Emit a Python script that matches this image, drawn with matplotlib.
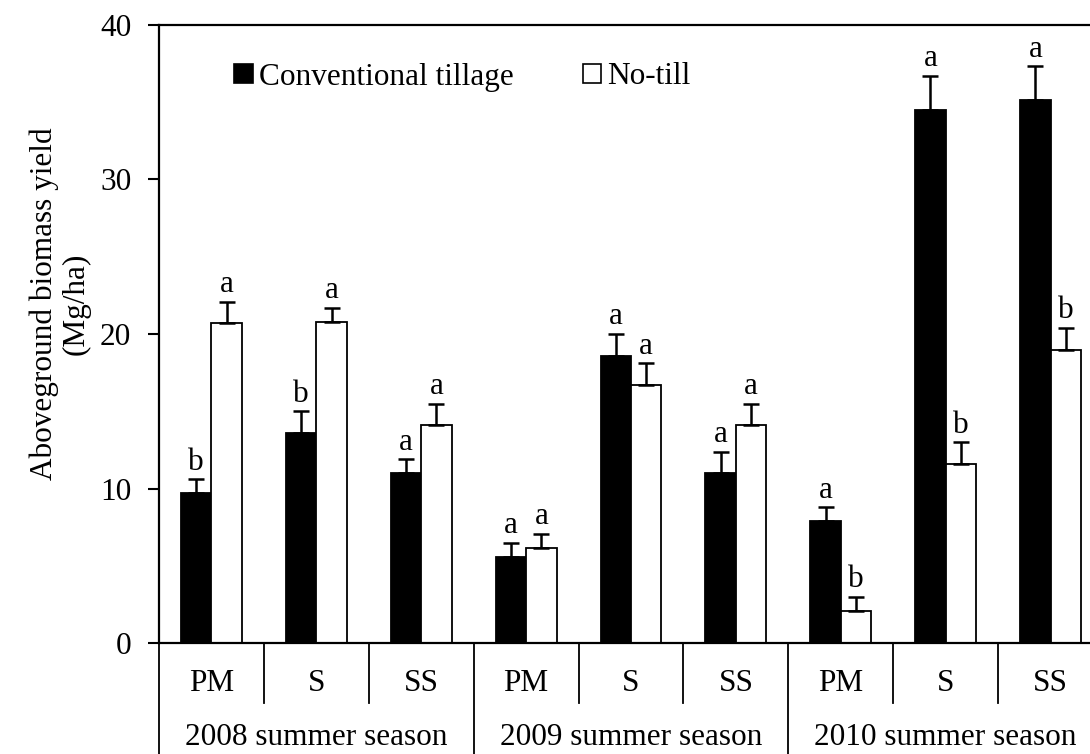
import numpy as np
import matplotlib
matplotlib.use("Agg")
import matplotlib.pyplot as plt
import matplotlib.patches as mpatches
import matplotlib.transforms as mtransforms

# ---------------------------------------------------------------------------
# data
# ---------------------------------------------------------------------------
crops = ["PM", "S", "SS", "PM", "S", "SS", "PM", "S", "SS"]
seasons = ["2008 summer season", "2009 summer season", "2010 summer season"]

ct_mean = [9.7, 13.6, 11.0, 5.6, 18.6, 11.0, 7.9, 34.5, 35.1]
ct_err = [0.9, 1.4, 0.9, 0.9, 1.4, 1.4, 0.9, 2.2, 2.2]
ct_letter = ["b", "b", "a", "a", "a", "a", "a", "a", "a"]

nt_mean = [20.7, 20.8, 14.1, 6.2, 16.7, 14.1, 2.1, 11.6, 19.0]
nt_err = [1.4, 0.9, 1.4, 0.9, 1.4, 1.4, 0.9, 1.4, 1.4]
nt_letter = ["a", "a", "a", "a", "a", "a", "b", "b", "b"]

FS = 22.5
plt.rcParams["font.family"] = ["Liberation Serif", "DejaVu Serif"]
plt.rcParams["font.size"] = FS

fig = plt.figure(figsize=(10.9, 7.54), dpi=100)
# axes runs a little past the right edge, as in the reference
ax = fig.add_axes([159 / 1090, (754 - 643.4) / 754, 944 / 1090, 618.7 / 754])

x = np.arange(len(crops))
w = 0.29
lw = 1.3

ax.bar(x - w / 2, ct_mean, w, color="black", edgecolor="black", linewidth=lw,
       yerr=[np.zeros(len(x)), ct_err], error_kw=dict(ecolor="black", elinewidth=1.8,
                                                      capsize=5.5, capthick=1.8))
ax.bar(x + w / 2, nt_mean, w, color="white", edgecolor="black", linewidth=lw,
       yerr=[np.zeros(len(x)), nt_err], error_kw=dict(ecolor="black", elinewidth=1.8,
                                                      capsize=5.5, capthick=1.8))

# significance letters
for i in range(len(x)):
    ax.annotate(ct_letter[i], (x[i] - w / 2, ct_mean[i] + ct_err[i]), xytext=(0, 7),
                textcoords="offset points", ha="center", va="baseline", fontsize=FS)
    ax.annotate(nt_letter[i], (x[i] + w / 2, nt_mean[i] + nt_err[i]), xytext=(0, 7),
                textcoords="offset points", ha="center", va="baseline", fontsize=FS)

ax.set_xlim(-0.5, len(x) - 0.5)
ax.set_ylim(0, 40)
ax.set_yticks([0, 10, 20, 30, 40])
ax.tick_params(axis="y", direction="out", length=8, width=1.5, pad=12)
ax.set_xticks([])
for side in ["left", "top", "bottom"]:
    ax.spines[side].set_linewidth(1.6)
ax.spines["right"].set_visible(False)

# two-tier category axis
trans = mtransforms.blended_transform_factory(ax.transData, ax.transAxes)
for k in range(len(x) + 1):
    xb = k - 0.5
    y_end = -0.25 if k % 3 == 0 else -0.097
    ax.plot([xb, xb], [0, y_end], color="black", lw=1.3, transform=trans, clip_on=False)
for i, c in enumerate(crops):
    ax.text(x[i], -0.065, c, transform=trans, ha="center", va="center", fontsize=FS)
for j, s in enumerate(seasons):
    ax.text(3 * j + 1, -0.152, s, transform=trans, ha="center", va="center", fontsize=FS)

# y label
fig.text(60 / 1090, 1 - 304 / 754, "Aboveground biomass yield\n(Mg/ha)", rotation=90,
         ha="center", va="center", multialignment="center", fontsize=FS, linespacing=1.15)

# legend
handles = [mpatches.Patch(facecolor="black", edgecolor="black", lw=1.2, label="Conventional tillage"),
           mpatches.Patch(facecolor="white", edgecolor="black", lw=1.2, label="No-till")]
ax.legend(handles=handles, ncol=2, frameon=False, loc="center left",
          bbox_to_anchor=((234 - 159) / 944, 1 - (77 - 24.7) / 618.7),
          handlelength=0.6, handleheight=0.6, handletextpad=0.2, columnspacing=2.2,
          borderaxespad=0, borderpad=0, fontsize=FS)

fig.savefig("out.png", dpi=100)
